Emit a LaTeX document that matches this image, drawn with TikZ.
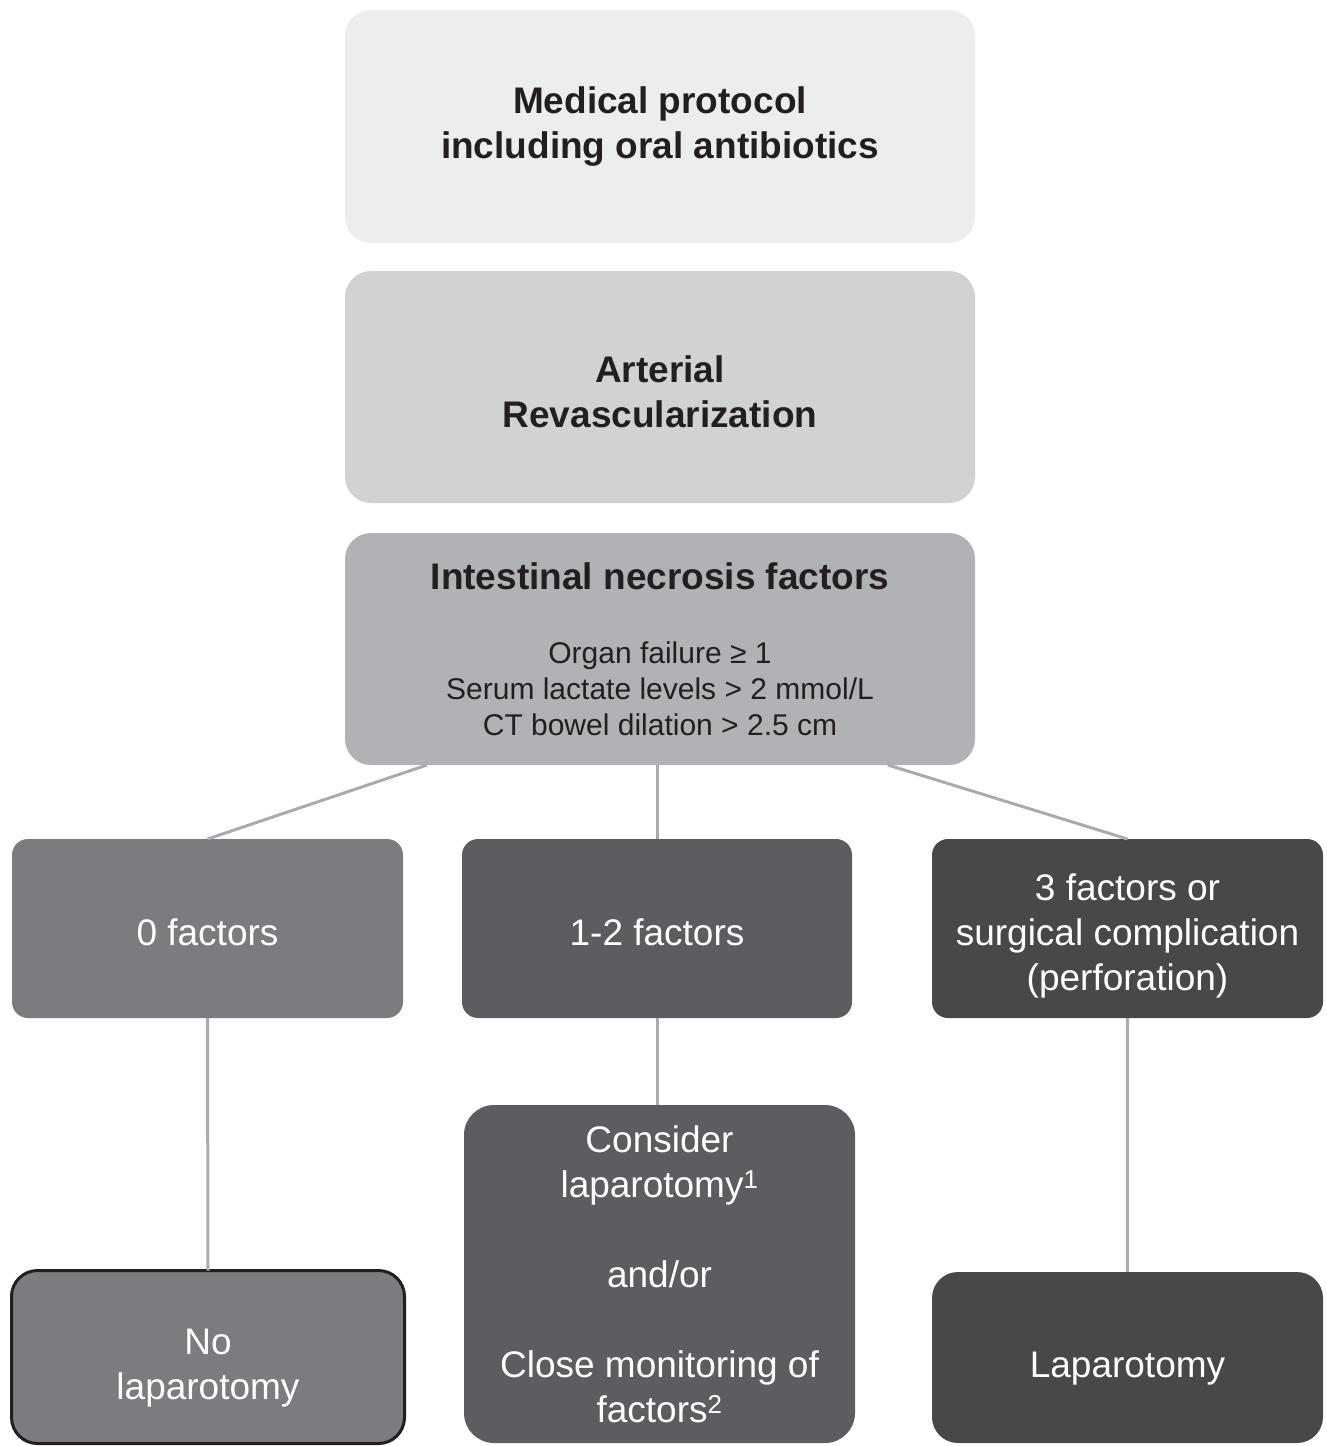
\documentclass[tikz,border=0pt]{standalone}
\usepackage{fontspec}
\setmainfont{Liberation Sans}
\begin{document}
\begin{tikzpicture}[x=1pt,y=-1pt,
    box/.style={rounded corners=#1, inner sep=0pt, outer sep=0pt, align=center,
      font=\fontsize{37}{45}\selectfont},
    box/.default=26pt,
    lift/.style={text depth=0pt, text height=#1},
    link/.style={line width=3pt, color=r171g171b173}]

  % Changing colors
  \definecolor{r236g237b237}{RGB}{236,237,237}%
  \definecolor{r209g210b212}{RGB}{209,210,212}%
  \definecolor{r177g178b181}{RGB}{177,178,181}%
  \definecolor{r123g124b128}{RGB}{123,124,128}%
  \definecolor{r92g93b96}{RGB}{92,93,96}%
  \definecolor{r72g72b74}{RGB}{72,72,74}%
  \definecolor{r35g31b32}{RGB}{35,31,32}%
  \definecolor{r171g171b173}{RGB}{171,171,173}%

  \useasboundingbox (0,0) rectangle (1326,1446);

  % Boxes of the upper column
  \node[box, fill=r236g237b237, text=r35g31b32, minimum width=630pt, minimum height=233pt]
    (medical) at (660,126.5) {\bfseries Medical protocol\\\bfseries including oral antibiotics};
  \node[box, fill=r209g210b212, text=r35g31b32, minimum width=630pt, minimum height=232pt,
    lift=80pt]
    (arterial) at (660,387) {\bfseries Arterial\\\bfseries Revascularization};
  \node[box, fill=r177g178b181, text=r35g31b32, minimum width=630pt, minimum height=232pt,
    font=\fontsize{30}{36}\selectfont]
    (necrosis) at (660,649) {{\fontsize{37}{45}\selectfont\bfseries Intestinal necrosis factors}\\[38pt]
      Organ failure ≥ 1\\Serum lactate levels > 2 mmol/L\\CT bowel dilation > 2.5 cm};

  % Boxes of the factor row
  \node[box=16pt, fill=r123g124b128, text=white, minimum width=391pt, minimum height=179pt,
    lift=33pt]
    (zero) at (207.5,928.5) {0 factors};
  \node[box=16pt, fill=r92g93b96, text=white, minimum width=390pt, minimum height=179pt,
    lift=33pt]
    (onetwo) at (657,928.5) {1-2 factors};
  \node[box=16pt, fill=r72g72b74, text=white, minimum width=391pt, minimum height=179pt,
    lift=123pt]
    (three) at (1127.5,928.5) {3 factors or\\surgical complication\\(perforation)};

  % Boxes of the decision row
  \node[box, fill=r123g124b128, draw=r35g31b32, line width=3pt, text=white,
    minimum width=393pt, minimum height=173pt, lift=85.5pt]
    (nolap) at (208,1357) {No\\laparotomy};
  \node[box=30pt, fill=r92g93b96, text=white, minimum width=391pt, minimum height=338pt]
    (consider) at (659.5,1274) {Consider\\laparotomy\textsuperscript{1}\\[45pt]and/or\\[45pt]
      Close monitoring of\\factors\textsuperscript{2}};
  \node[box, fill=r72g72b74, text=white, minimum width=391pt, minimum height=171pt,
    lift=39pt]
    (lap) at (1127.5,1357.5) {Laparotomy};

  % Drawing lines from the factors box
  \draw[link] ([xshift=-233pt]necrosis.south) -- (zero.north);
  \draw[link] (onetwo.north |- necrosis.south) -- (onetwo.north);
  \draw[link] ([xshift=228pt]necrosis.south) -- (three.north);

  % Drawing lines down to the decisions
  \draw[link] (zero.south) -- (nolap.north);
  \draw[link] (onetwo.south) -- (onetwo.south |- consider.north);
  \draw[link] (three.south) -- (lap.north);
\end{tikzpicture}
\end{document}
